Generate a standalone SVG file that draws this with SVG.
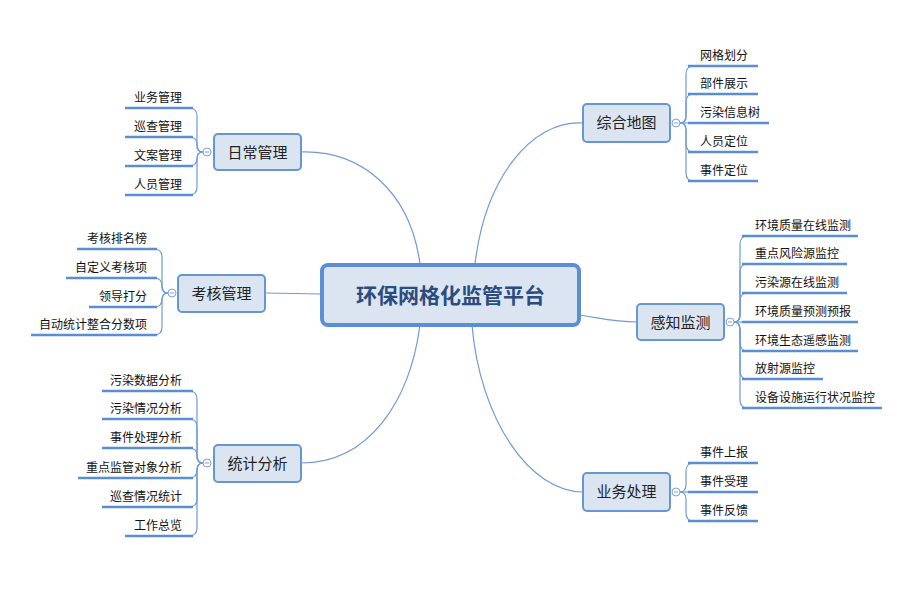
<svg xmlns="http://www.w3.org/2000/svg" width="915" height="591" viewBox="0 0 915 591">
<style>
.bg{fill:#ffffff}
.main rect{fill:#dbe5f2;stroke:#6796d2;stroke-width:2}
.main text{font-family:"Noto Sans CJK SC","Microsoft YaHei",sans-serif;font-size:15px;fill:#222;text-anchor:middle}
.conn path{fill:none;stroke:#6e9ad6;stroke-width:1.2}
.br path{fill:none;stroke:#6e9ad6;stroke-width:1.2}
.ul{stroke:#5a8ed3;stroke-width:2.5;fill:none}
.lt{font-family:"Noto Sans CJK SC","Microsoft YaHei",sans-serif;font-size:12px;fill:#111;text-anchor:end}
.rt{font-family:"Noto Sans CJK SC","Microsoft YaHei",sans-serif;font-size:12px;fill:#111;text-anchor:start}
.tog circle{fill:#fff;stroke:#7aa2d8;stroke-width:1}
.tog line{stroke:#7aa2d8;stroke-width:1}
</style>
<rect class="bg" x="0" y="0" width="915" height="591"/>

<g id="connectors" class="conn">
<path d="M301,152 C360,150 410,190 420,264"/>
<path d="M266,293 L322,294"/>
<path d="M301,463 C370,463 410,400 420,325"/>
<path d="M583,123 C530,120 485,180 475,264"/>
<path d="M579,315 C600,318 615,322 637,322"/>
<path d="M583,492 C530,492 480,420 472,325"/>
</g>

<g id="central">
<rect x="322" y="265" width="257" height="60" rx="6" fill="#dbe5f2" stroke="#5b8ed6" stroke-width="4"/>
<text x="450.5" y="303" font-family="'Noto Sans CJK SC','Microsoft YaHei',sans-serif" font-size="21" font-weight="bold" fill="#2b4c7e" text-anchor="middle">环保网格化监管平台</text>
</g>

<!-- 日常管理 -->
<g id="richang">
<g class="br">
<path d="M203,152 Q197,152 197,144 L197,116 Q197,108 189,108"/>
<path d="M203,152 Q197,152 197,146 L197,145 Q197,137 189,137"/>
<path d="M203,152 Q197,152 197,158 L197,158 Q197,166 189,166"/>
<path d="M203,152 Q197,152 197,160 L197,187 Q197,195 189,195"/>
</g>
<line class="ul" x1="125" y1="108" x2="193" y2="108"/>
<line class="ul" x1="125" y1="137" x2="193" y2="137"/>
<line class="ul" x1="125" y1="166" x2="193" y2="166"/>
<line class="ul" x1="125" y1="195" x2="193" y2="195"/>
<text class="lt" x="182" y="101.5">业务管理</text>
<text class="lt" x="182" y="130.5">巡查管理</text>
<text class="lt" x="182" y="159.5">文案管理</text>
<text class="lt" x="182" y="188.5">人员管理</text>
<g class="tog"><circle cx="207" cy="152" r="4"/><line x1="205" y1="152" x2="209" y2="152"/></g>
<g class="main"><rect x="214" y="134" width="87" height="36" rx="4"/><text x="257.5" y="157.5">日常管理</text></g>
</g>

<!-- 考核管理 -->
<g id="kaohe">
<g class="br">
<path d="M168,293 Q162,293 162,285 L162,257 Q162,249 154,249"/>
<path d="M168,293 Q162,293 162,287 L162,286 Q162,278 154,278"/>
<path d="M168,293 Q162,293 162,299 L162,299 Q162,307 154,307"/>
<path d="M168,293 Q162,293 162,301 L162,327 Q162,335 154,335"/>
</g>
<line class="ul" x1="77" y1="249" x2="157" y2="249"/>
<line class="ul" x1="66" y1="278" x2="157" y2="278"/>
<line class="ul" x1="89" y1="307" x2="157" y2="307"/>
<line class="ul" x1="31" y1="335" x2="157" y2="335"/>
<text class="lt" x="147" y="242.5">考核排名榜</text>
<text class="lt" x="147" y="271.5">自定义考核项</text>
<text class="lt" x="147" y="300.5">领导打分</text>
<text class="lt" x="147" y="328.5">自动统计整合分数项</text>
<g class="tog"><circle cx="172" cy="293" r="4"/><line x1="170" y1="293" x2="174" y2="293"/></g>
<g class="main"><rect x="178" y="275" width="87" height="37" rx="4"/><text x="221.5" y="298.5">考核管理</text></g>
</g>

<!-- 统计分析 -->
<g id="tongji">
<g class="br">
<path d="M203,463 Q197,463 197,455 L197,399 Q197,391 189,391"/>
<path d="M203,463 Q197,463 197,455 L197,427 Q197,419 189,419"/>
<path d="M203,463 Q197,463 197,457 L197,456 Q197,448 189,448"/>
<path d="M203,463 Q197,463 197,469 L197,470 Q197,478 189,478"/>
<path d="M203,463 Q197,463 197,471 L197,499 Q197,507 189,507"/>
<path d="M203,463 Q197,463 197,471 L197,528 Q197,536 189,536"/>
</g>
<line class="ul" x1="102" y1="391" x2="193" y2="391"/>
<line class="ul" x1="102" y1="419" x2="193" y2="419"/>
<line class="ul" x1="102" y1="448" x2="193" y2="448"/>
<line class="ul" x1="78" y1="478" x2="193" y2="478"/>
<line class="ul" x1="102" y1="507" x2="193" y2="507"/>
<line class="ul" x1="125" y1="536" x2="193" y2="536"/>
<text class="lt" x="182" y="384.5">污染数据分析</text>
<text class="lt" x="182" y="412.5">污染情况分析</text>
<text class="lt" x="182" y="441.5">事件处理分析</text>
<text class="lt" x="182" y="471.5">重点监管对象分析</text>
<text class="lt" x="182" y="500.5">巡查情况统计</text>
<text class="lt" x="182" y="529.5">工作总览</text>
<g class="tog"><circle cx="207" cy="463" r="4"/><line x1="205" y1="463" x2="209" y2="463"/></g>
<g class="main"><rect x="214" y="445" width="87" height="37" rx="4"/><text x="257.5" y="468.5">统计分析</text></g>
</g>

<!-- 综合地图 -->
<g id="zonghe">
<g class="br">
<path d="M680,123 Q686,123 686,115 L686,74 Q686,66 694,66"/>
<path d="M680,123 Q686,123 686,117 L686,102 Q686,94 694,94"/>
<path d="M680,123 L694,123"/>
<path d="M680,123 Q686,123 686,129 L686,144 Q686,152 694,152"/>
<path d="M680,123 Q686,123 686,131 L686,173 Q686,181 694,181"/>
</g>
<line class="ul" x1="688" y1="66" x2="758" y2="66"/>
<line class="ul" x1="688" y1="94" x2="758" y2="94"/>
<line class="ul" x1="688" y1="123" x2="769" y2="123"/>
<line class="ul" x1="688" y1="152" x2="758" y2="152"/>
<line class="ul" x1="688" y1="181" x2="758" y2="181"/>
<text class="rt" x="700" y="59.5">网格划分</text>
<text class="rt" x="700" y="87.5">部件展示</text>
<text class="rt" x="700" y="116.5">污染信息树</text>
<text class="rt" x="700" y="145.5">人员定位</text>
<text class="rt" x="700" y="174.5">事件定位</text>
<g class="tog"><circle cx="676" cy="123" r="4"/><line x1="674" y1="123" x2="678" y2="123"/></g>
<g class="main"><rect x="583" y="104" width="87" height="38" rx="4"/><text x="626.5" y="128">综合地图</text></g>
</g>

<!-- 感知监测 -->
<g id="ganzhi">
<g class="br">
<path d="M734,322 Q740,322 740,314 L740,244 Q740,236 748,236"/>
<path d="M734,322 Q740,322 740,314 L740,272 Q740,264 748,264"/>
<path d="M734,322 Q740,322 740,314 L740,301 Q740,293 748,293"/>
<path d="M734,322 L748,322"/>
<path d="M734,322 Q740,322 740,330 L740,343 Q740,351 748,351"/>
<path d="M734,322 Q740,322 740,330 L740,371 Q740,379 748,379"/>
<path d="M734,322 Q740,322 740,330 L740,400 Q740,408 748,408"/>
</g>
<line class="ul" x1="742" y1="236" x2="858" y2="236"/>
<line class="ul" x1="742" y1="264" x2="847" y2="264"/>
<line class="ul" x1="742" y1="293" x2="847" y2="293"/>
<line class="ul" x1="742" y1="322" x2="858" y2="322"/>
<line class="ul" x1="742" y1="351" x2="858" y2="351"/>
<line class="ul" x1="742" y1="379" x2="823" y2="379"/>
<line class="ul" x1="742" y1="408" x2="882" y2="408"/>
<text class="rt" x="755" y="229.5">环境质量在线监测</text>
<text class="rt" x="755" y="257.5">重点风险源监控</text>
<text class="rt" x="755" y="286.5">污染源在线监测</text>
<text class="rt" x="755" y="315.5">环境质量预测预报</text>
<text class="rt" x="755" y="344.5">环境生态遥感监测</text>
<text class="rt" x="755" y="372.5">放射源监控</text>
<text class="rt" x="755" y="401.5">设备设施运行状况监控</text>
<g class="tog"><circle cx="730" cy="322" r="4"/><line x1="728" y1="322" x2="732" y2="322"/></g>
<g class="main"><rect x="637" y="304" width="87" height="36" rx="4"/><text x="680.5" y="327.5">感知监测</text></g>
</g>

<!-- 业务处理 -->
<g id="yewu">
<g class="br">
<path d="M680,492 Q686,492 686,484 L686,471 Q686,463 694,463"/>
<path d="M680,492 L694,492"/>
<path d="M680,492 Q686,492 686,500 L686,513 Q686,521 694,521"/>
</g>
<line class="ul" x1="688" y1="463" x2="758" y2="463"/>
<line class="ul" x1="688" y1="492" x2="758" y2="492"/>
<line class="ul" x1="688" y1="521" x2="758" y2="521"/>
<text class="rt" x="700" y="456.5">事件上报</text>
<text class="rt" x="700" y="485.5">事件受理</text>
<text class="rt" x="700" y="514.5">事件反馈</text>
<g class="tog"><circle cx="676" cy="492" r="4"/><line x1="674" y1="492" x2="678" y2="492"/></g>
<g class="main"><rect x="583" y="473" width="87" height="38" rx="4"/><text x="626.5" y="497">业务处理</text></g>
</g>
</svg>
